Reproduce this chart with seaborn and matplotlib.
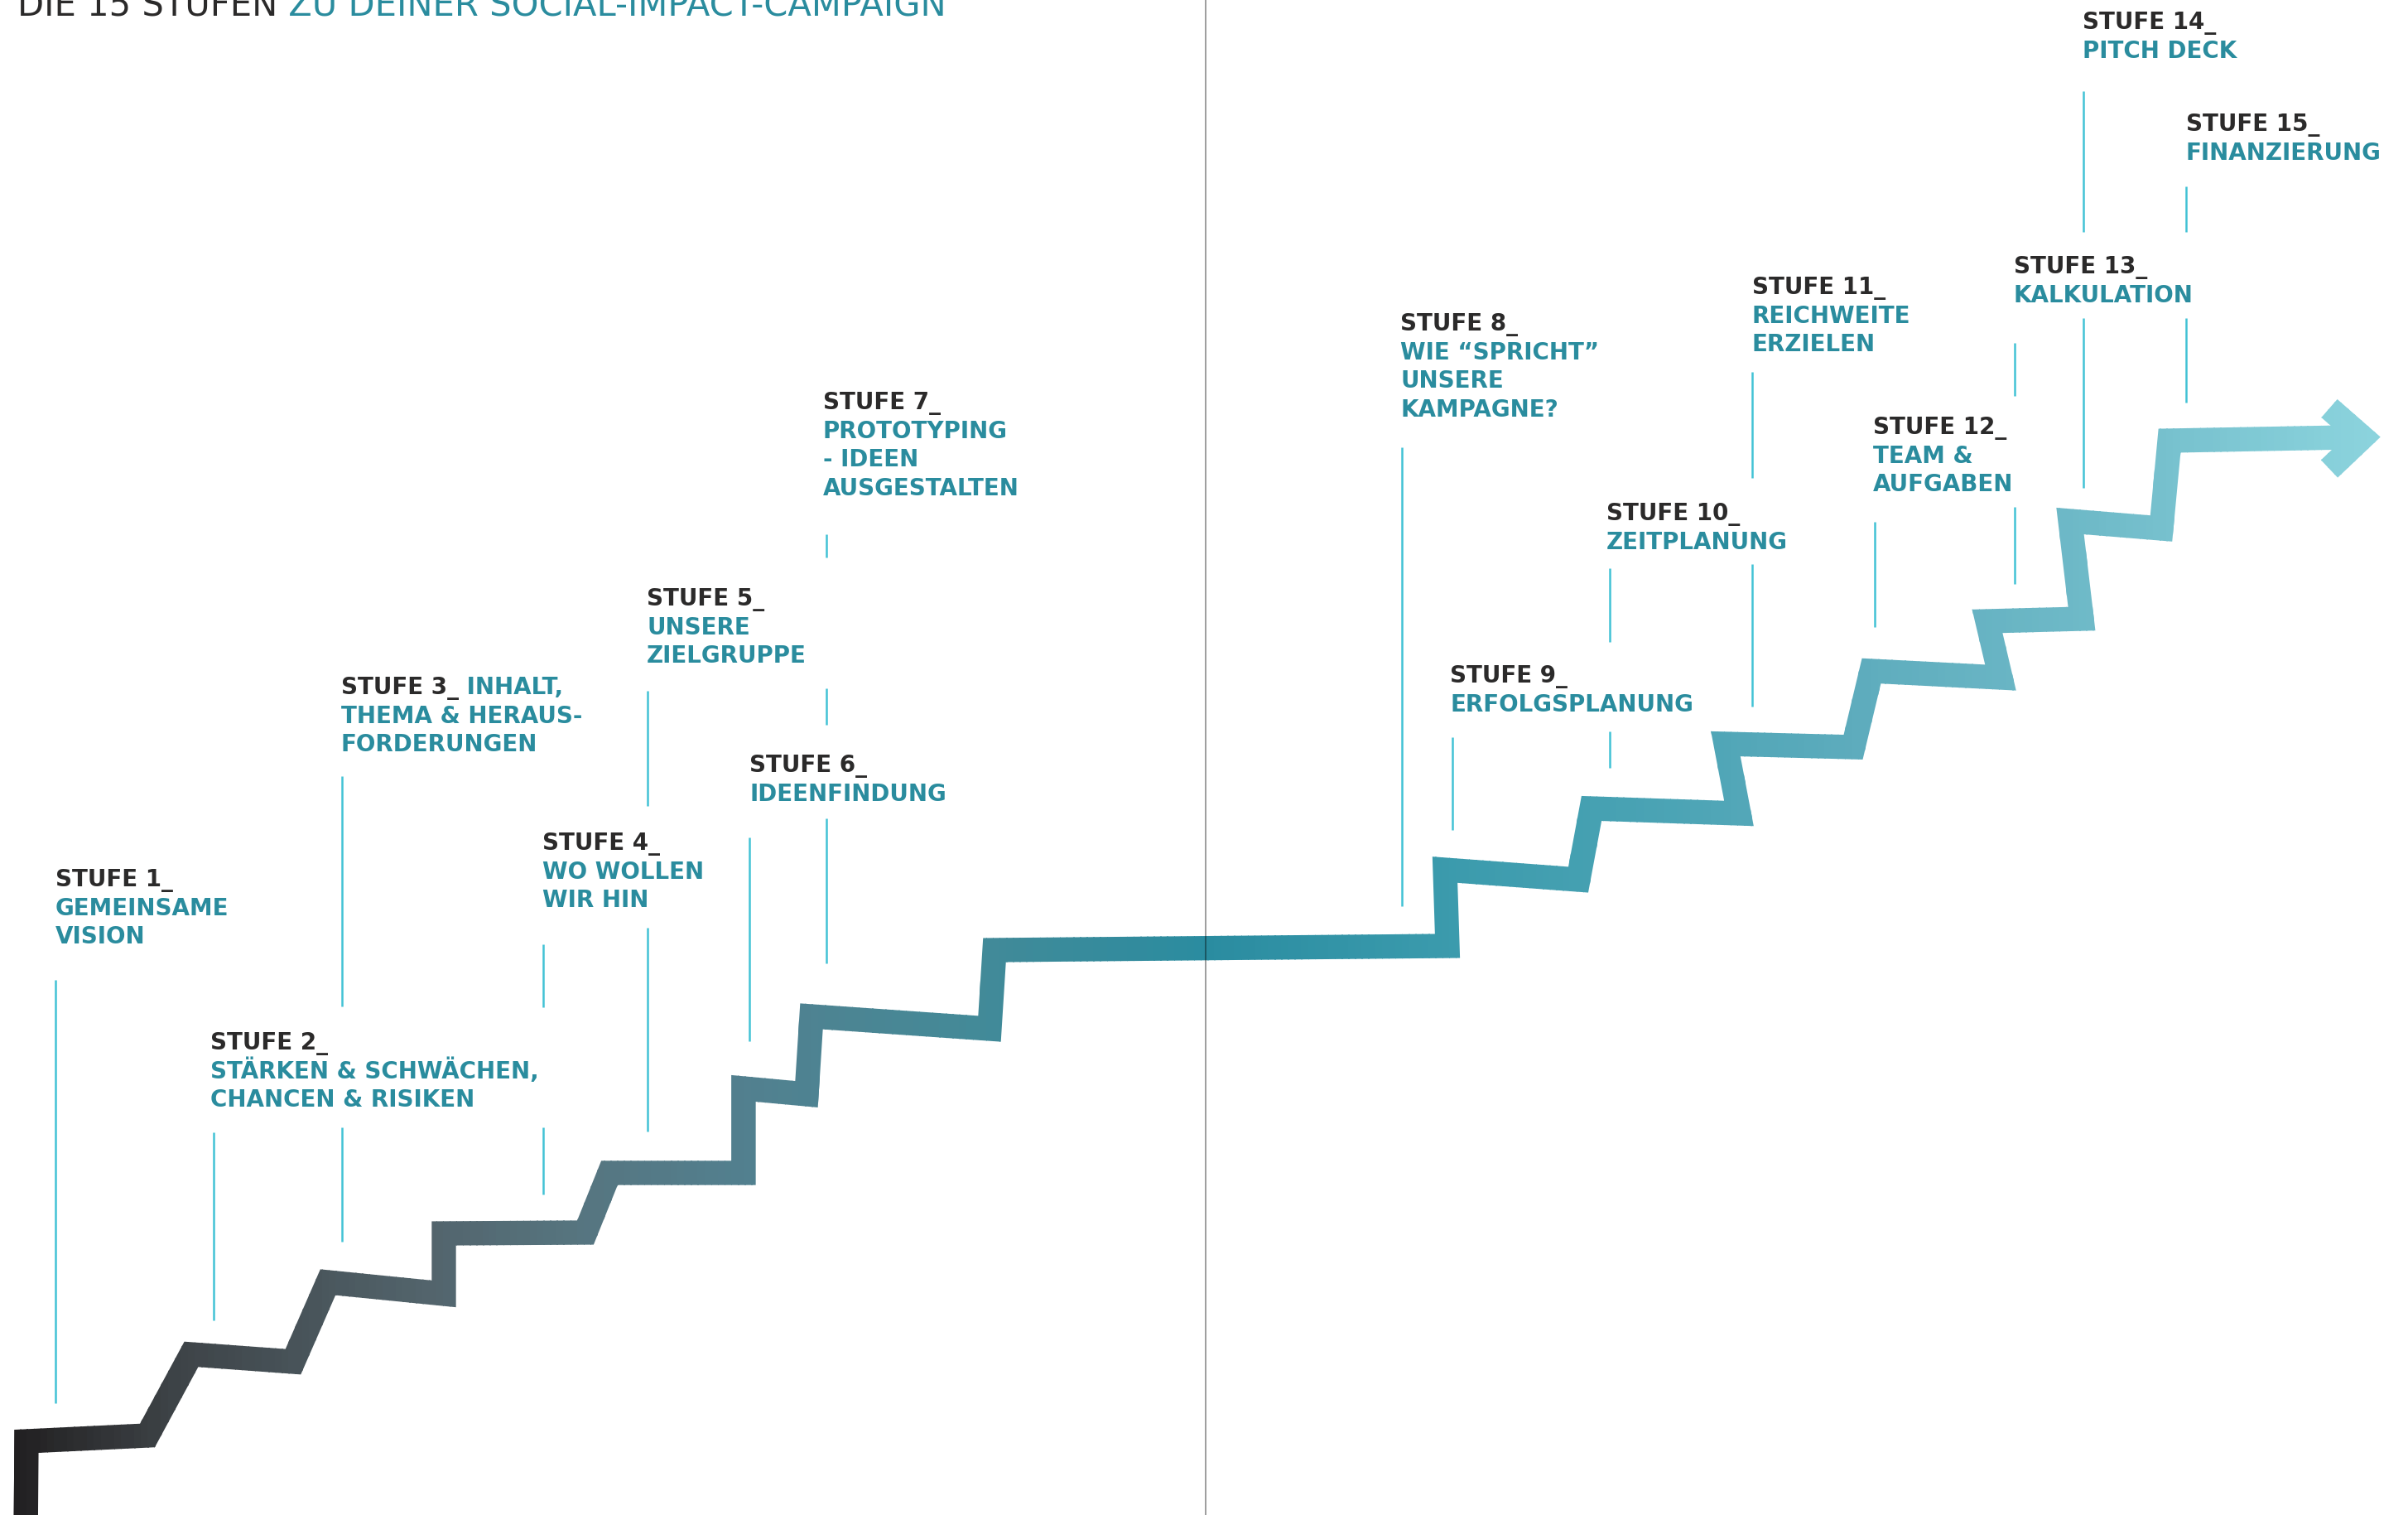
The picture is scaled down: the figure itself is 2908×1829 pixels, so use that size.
import numpy as np
import pandas as pd
import matplotlib
matplotlib.use("Agg")
import matplotlib.pyplot as plt
from matplotlib.colors import LinearSegmentedColormap
from matplotlib.patches import Rectangle
import seaborn as sns

W, H = 2908, 1829

# staircase centre line, page pixels (y grows downwards)
stair_x = [31, 32, 178, 231, 354, 396, 536, 536, 707, 736, 898, 898, 974, 980, 1195, 1201,
           1748, 1745, 1906, 1922, 2100, 2084, 2238, 2260, 2416, 2400, 2514, 2500, 2610, 2620, 2835]
stair_y = [1870, 1740, 1733, 1635, 1644, 1548, 1562, 1489, 1488, 1416, 1416, 1314, 1321, 1227, 1242, 1147,
           1142, 1050, 1062, 976, 982, 898, 902, 810, 818, 750, 747, 629, 638, 532, 528]
head_x = [2813, 2853, 2813]
head_y = [493, 528, 566]

# colour of the stair along x
grad_x = [0, 200, 520, 700, 900, 1180, 1456, 1733, 2000, 2250, 2530, 2850, 2908]
grad_c = ['#1f1d1e', '#3d4246', '#53656d', '#567580', '#52808f', '#438a98', '#2a8ca0',
          '#3a9aac', '#4aa3b4', '#5eacbd', '#6fbac8', '#8ad2dc', '#8dd4de']

# labels
heads = [f"STUFE {i}_" for i in range(1, 16)]
texts = [
    ["GEMEINSAME", "VISION"],
    ["STÄRKEN & SCHWÄCHEN,", "CHANCEN & RISIKEN"],
    ["INHALT,", "THEMA & HERAUS-", "FORDERUNGEN"],
    ["WO WOLLEN", "WIR HIN"],
    ["UNSERE", "ZIELGRUPPE"],
    ["IDEENFINDUNG"],
    ["PROTOTYPING", "- IDEEN", "AUSGESTALTEN"],
    ["WIE “SPRICHT”", "UNSERE", "KAMPAGNE?"],
    ["ERFOLGSPLANUNG"],
    ["ZEITPLANUNG"],
    ["REICHWEITE", "ERZIELEN"],
    ["TEAM &", "AUFGABEN"],
    ["KALKULATION"],
    ["PITCH DECK"],
    ["FINANZIERUNG"],
]
inline_first = [False, False, True] + [False] * 12
label_x = [67, 254, 412, 655, 781, 905, 994, 1691, 1751, 1940, 2116, 2262, 2432, 2515, 2640]
label_y = [1070, 1267, 838, 1026, 731, 932, 494, 399, 824, 628, 355, 524, 330, 35, 158]

# thin vertical guide lines (x, y_top, y_bottom)
guide_x = [67, 258, 413, 413, 656, 656, 782, 782, 905, 998, 998, 998, 1693, 1754, 1944, 1944,
           2116, 2116, 2264, 2433, 2433, 2516, 2516, 2640, 2640]
guide_top = [1183, 1367, 937, 1361, 1140, 1361, 834, 1120, 1011, 645, 831, 988, 540, 890, 686, 883,
             449, 681, 630, 414, 612, 110, 384, 225, 384]
guide_bot = [1694, 1594, 1215, 1499, 1216, 1442, 973, 1366, 1257, 673, 875, 1163, 1094, 1002, 775, 927,
             577, 853, 757, 478, 705, 280, 589, 280, 486]

title_dark = "DIE 15 STUFEN"
title_teal = " ZU DEINER SOCIAL-IMPACT-CAMPAIGN"

DARK = '#2b2a2a'
TEAL = '#2a8c9e'
GUIDE = '#42c2d5'

sns.set_theme(style="white")
plt.rcParams['font.family'] = ['DejaVu Sans']

fig = plt.figure(figsize=(W / 100, H / 100), dpi=100)
ax = fig.add_axes([0, 0, 1, 1])

# guide lines via seaborn
guide_df = pd.DataFrame({
    'x': np.repeat(guide_x, 2),
    'y': np.ravel(np.column_stack([guide_top, guide_bot])),
    'seg': np.repeat(np.arange(len(guide_x)), 2),
})
sns.lineplot(data=guide_df, x='x', y='y', units='seg', estimator=None, sort=False,
             color=GUIDE, lw=1.8, ax=ax, legend=False)
for ln in ax.lines:
    ln.set_solid_capstyle('butt')

# gradient stair: same line drawn in narrow clipped strips
cmap = LinearSegmentedColormap.from_list('stair', list(zip(np.array(grad_x) / W, grad_c)))
lw = 21.1
edges = np.linspace(0, W, 360)
for a, b in zip(edges[:-1], edges[1:]):
    col = cmap(((a + b) / 2) / W)
    clip = Rectangle((a, -50), b - a + 1.5, H + 100, transform=ax.transData)
    for xs, ys in ((stair_x, stair_y), (head_x, head_y)):
        if min(xs) - 30 > b or max(xs) + 30 < a:
            continue
        ln, = ax.plot(xs, ys, color=col, lw=lw, solid_joinstyle='miter',
                      solid_capstyle='butt', zorder=3)
        ln.set_clip_path(clip)

# centre fold line
ax.axvline(1456, color='black', alpha=0.45, lw=1.2, zorder=5)

ax.set_xlim(0, W)
ax.set_ylim(H, 0)
ax.axis('off')

fs = 20
lead = 34.7
heads_drawn = []
for i in range(15):
    t = ax.text(label_x[i], label_y[i], heads[i], color=DARK, fontsize=fs, fontweight='bold',
                va='baseline', ha='left')
    heads_drawn.append(t)

fig.canvas.draw()
r = fig.canvas.get_renderer()
inv = ax.transData.inverted()
for i in range(15):
    lines = texts[i]
    row = 1
    if inline_first[i]:
        bb = heads_drawn[i].get_window_extent(r)
        xe = inv.transform((bb.x1, bb.y0))[0]
        ax.text(xe, label_y[i], " " + lines[0], color=TEAL, fontsize=fs, fontweight='bold',
                va='baseline', ha='left')
        lines = lines[1:]
    for line in lines:
        ax.text(label_x[i], label_y[i] + row * lead, line, color=TEAL, fontsize=fs,
                fontweight='bold', va='baseline', ha='left')
        row += 1

# title, cut by the top edge as in the original page
t1 = ax.text(21, 20, title_dark, color=DARK, fontsize=30, fontweight='medium',
             va='baseline', ha='left')
fig.canvas.draw()
bb = t1.get_window_extent(fig.canvas.get_renderer())
xe = inv.transform((bb.x1, bb.y0))[0]
ax.text(xe, 20, title_teal, color=TEAL, fontsize=30, fontweight='medium',
        va='baseline', ha='left')

fig.savefig('out.png', dpi=100, facecolor='white')
